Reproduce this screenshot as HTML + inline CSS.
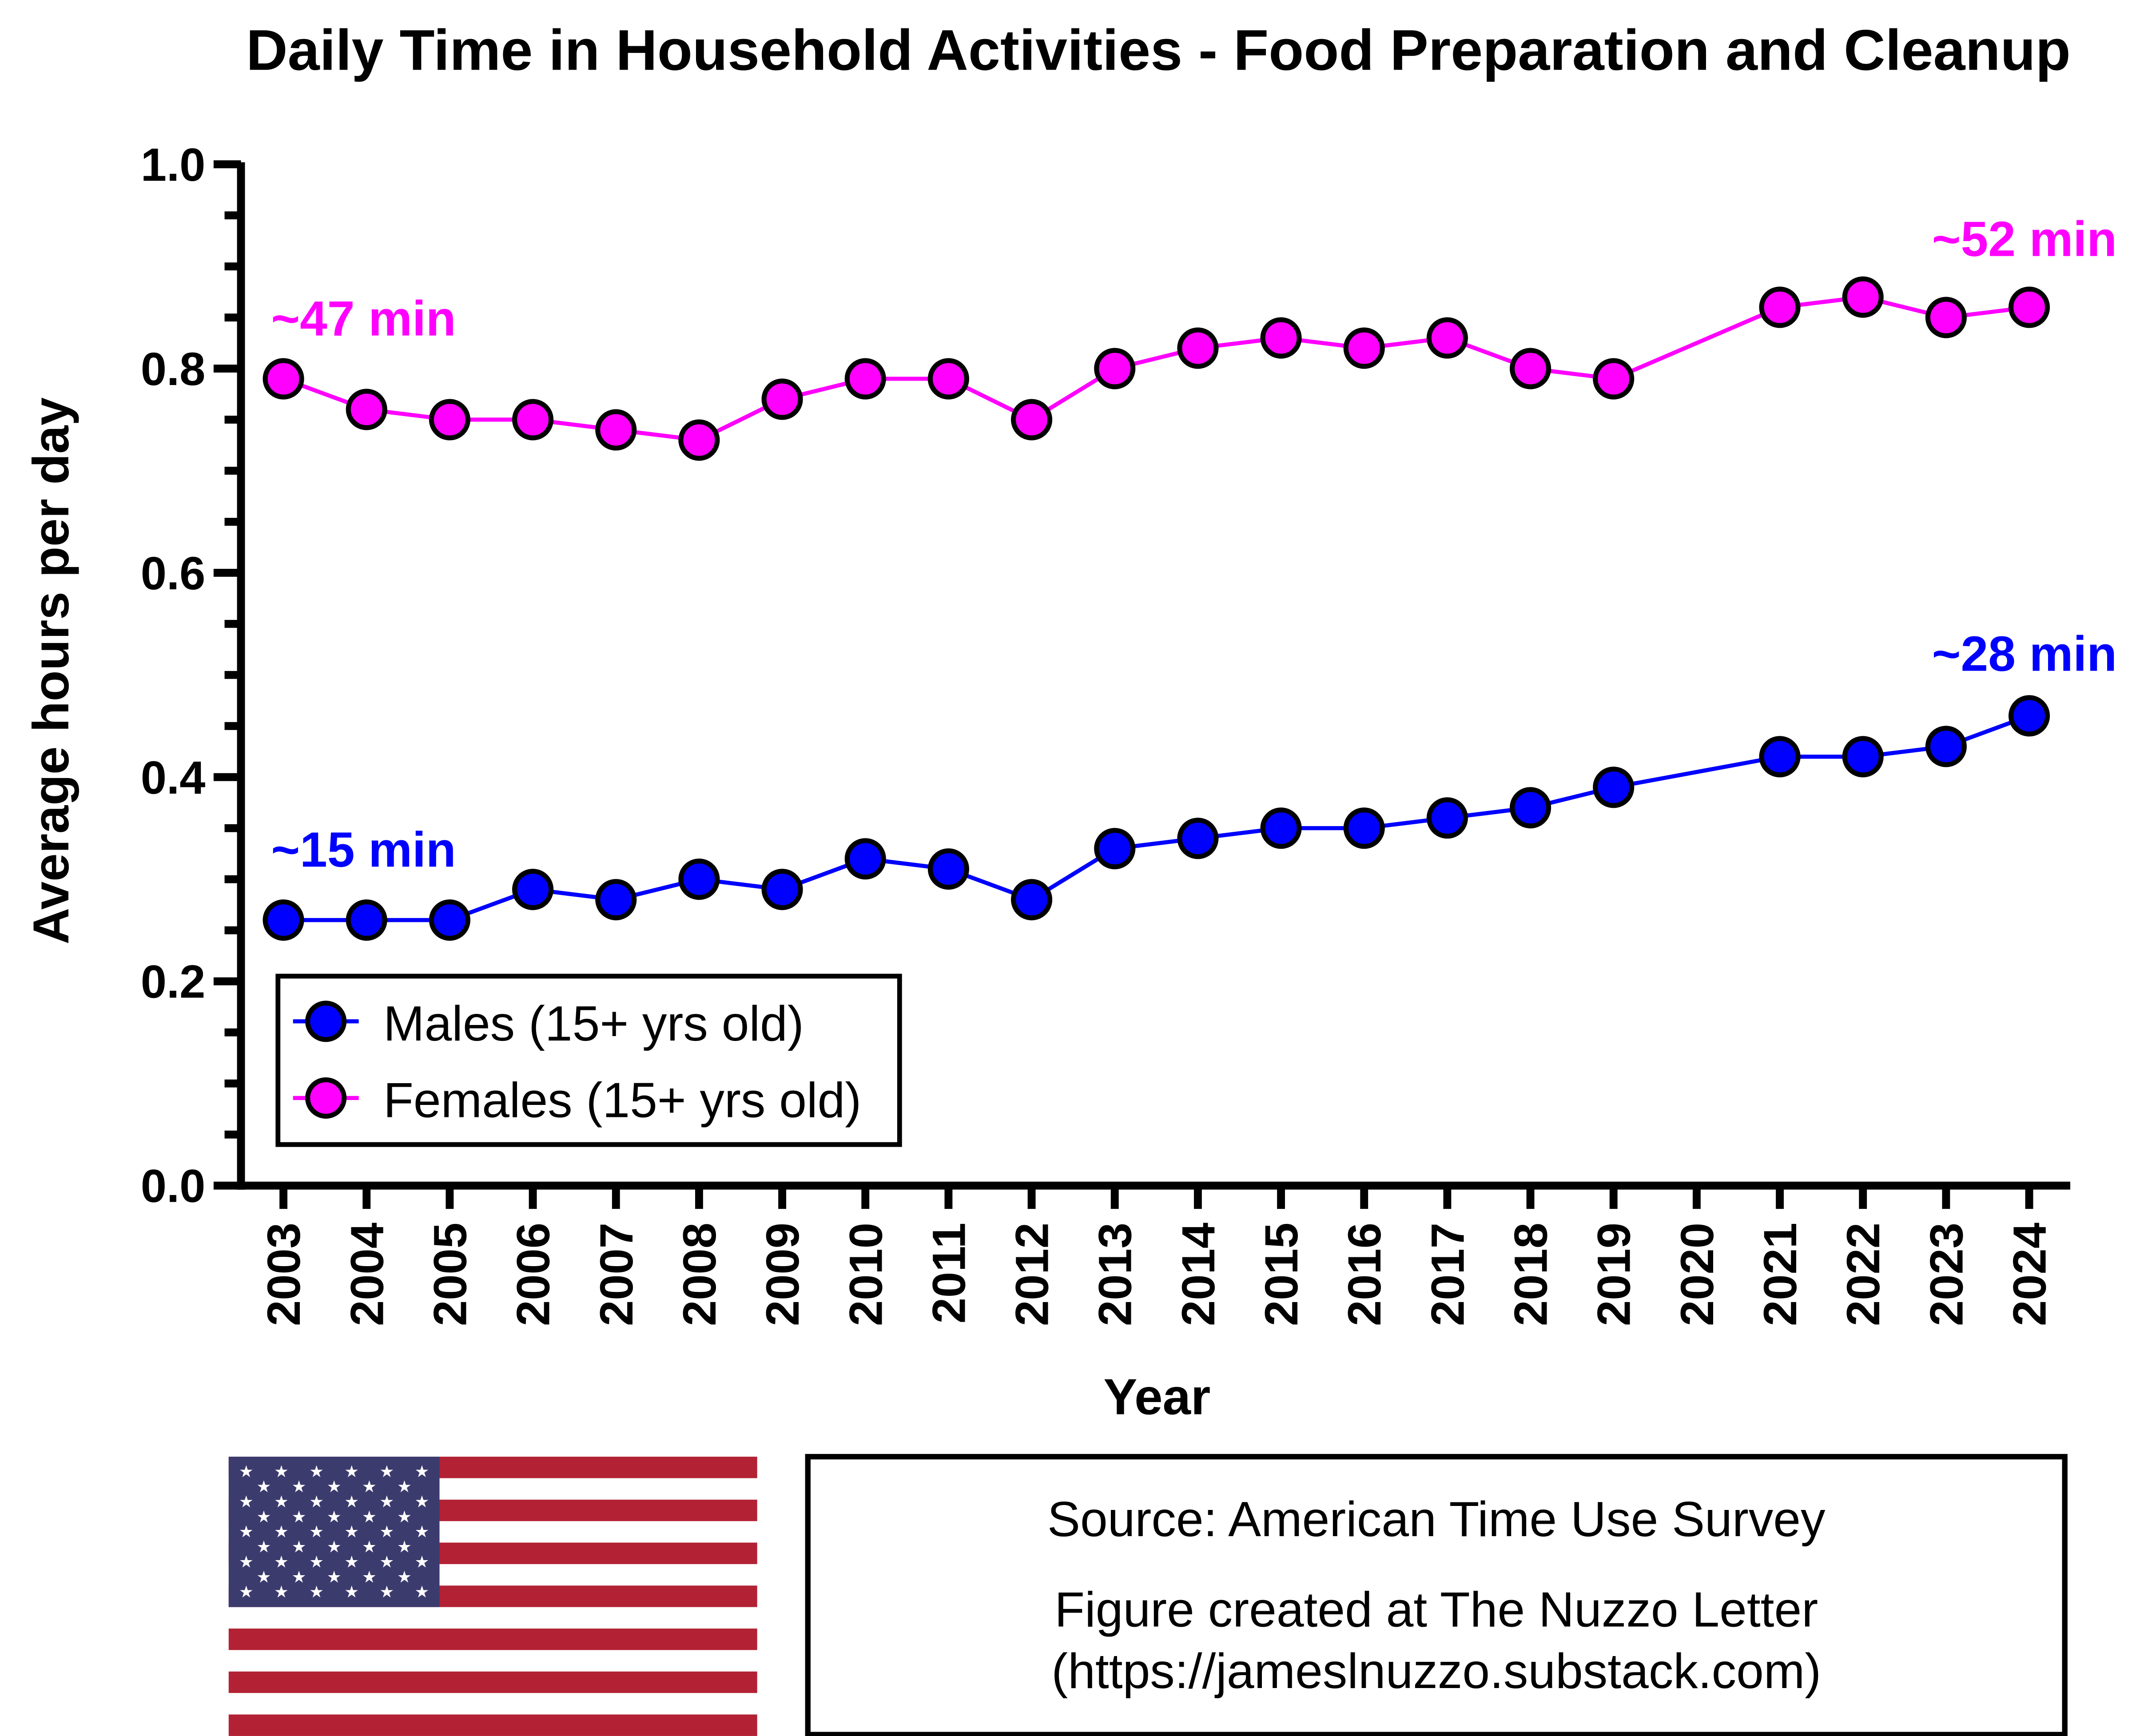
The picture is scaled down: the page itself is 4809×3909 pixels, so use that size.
<!DOCTYPE html>
<html><head><meta charset="utf-8"><style>html,body{margin:0;padding:0;background:#fff}svg{display:block}</style></head>
<body>
<svg id="chart" xmlns="http://www.w3.org/2000/svg" width="4809" height="3909" viewBox="0 0 1560 1268" font-family="Liberation Sans, Arial, sans-serif">
<rect width="1560" height="1268" fill="#fff"/>
<text x="846" y="51" text-anchor="middle" font-size="42" font-weight="bold">Daily Time in Household Activities -  Food Preparation and Cleanup</text>
<g id="axes"></g>
<g id="series"></g>
<text transform="translate(50,490) rotate(-90)" text-anchor="middle" font-size="37" font-weight="bold">Average hours per day</text>
<text x="845" y="1033" text-anchor="middle" font-size="37" font-weight="bold">Year</text>
<text x="198" y="245" font-size="36" font-weight="bold" fill="#ff00ff">~47 min</text>
<text x="1411" y="187" font-size="36" font-weight="bold" fill="#ff00ff">~52 min</text>
<text x="198" y="633" font-size="36" font-weight="bold" fill="#0000ff">~15 min</text>
<text x="1411" y="490" font-size="36" font-weight="bold" fill="#0000ff">~28 min</text>
<g>
<rect x="203" y="713" width="454" height="123" fill="#fff" stroke="#000" stroke-width="3.5"/>
<line x1="214" y1="746" x2="262" y2="746" stroke="#0000ff" stroke-width="3"/>
<circle cx="238" cy="746" r="13.3" fill="#0000ff" stroke="#000" stroke-width="3.6"/>
<text x="280" y="760" font-size="36">Males (15+ yrs old)</text>
<line x1="214" y1="802" x2="262" y2="802" stroke="#ff00ff" stroke-width="3"/>
<circle cx="238" cy="802" r="13.3" fill="#ff00ff" stroke="#000" stroke-width="3.6"/>
<text x="280" y="816" font-size="36">Females (15+ yrs old)</text>
</g>
<g id="flag"></g>
<g>
<rect x="590" y="1064" width="918" height="203" fill="#fff" stroke="#000" stroke-width="4"/>
<text x="1049" y="1122" text-anchor="middle" font-size="36">Source: American Time Use Survey</text>
<text x="1049" y="1188" text-anchor="middle" font-size="36">Figure created at The Nuzzo Letter</text>
<text x="1049" y="1233" text-anchor="middle" font-size="36">(https://jameslnuzzo.substack.com)</text>
</g>
</svg>
<script>
const years = [2003,2004,2005,2006,2007,2008,2009,2010,2011,2012,2013,2014,2015,2016,2017,2018,2019,2020,2021,2022,2023,2024];
const males = [0.26,0.26,0.26,0.29,0.28,0.30,0.29,0.32,0.31,0.28,0.33,0.34,0.35,0.35,0.36,0.37,0.39,null,0.42,0.42,0.43,0.46];
const females = [0.79,0.76,0.75,0.75,0.74,0.73,0.77,0.79,0.79,0.75,0.80,0.82,0.83,0.82,0.83,0.80,0.79,null,0.86,0.87,0.85,0.86];
const yTicks = ["0.0","0.2","0.4","0.6","0.8","1.0"];

const NS = "http://www.w3.org/2000/svg";
const X0 = 207, X1 = 1482, Y0 = 866, Y1 = 120;
function xs(y){ return X0 + (y - years[0]) * (X1 - X0) / (years[years.length-1] - years[0]); }
function ys(v){ return Y0 - v * (Y0 - Y1); }
function mk(tag, attrs, parent){ const e = document.createElementNS(NS, tag); for (const k in attrs) e.setAttribute(k, attrs[k]); parent.appendChild(e); return e; }

const axes = document.getElementById('axes');
const yAxis = mk('line', {x1:176, y1:Y1-1.5, x2:176, y2:Y0+3, stroke:'#000','stroke-width':5.8}, axes);


const xAxis = mk('line', {x1:173, y1:Y0, x2:1512, y2:Y0, stroke:'#000','stroke-width':5.8}, axes);


for (let i = 0; i <= 20; i++) {
  const v = i * 0.05, y = ys(v), major = i % 4 === 0;
  mk('line', {x1: major ? 156 : 164, y1:y, x2:176, y2:y, stroke:'#000','stroke-width':5.8}, axes);
}
yTicks.forEach(t => {
  const tl = mk('text', {x:150, y:ys(parseFloat(t))+12, 'text-anchor':'end','font-size':34,'font-weight':'bold'}, axes);
  tl.textContent = t;
  
  
});
years.forEach(yr => {
  const x = xs(yr);
  mk('line', {x1:x, y1:Y0, x2:x, y2:Y0+17, stroke:'#000','stroke-width':5.8}, axes);
  const tl = mk('text', {transform:`translate(${x+12},893) rotate(-90)`, 'text-anchor':'end','font-size':34,'font-weight':'bold'}, axes);
  tl.textContent = yr;
  
  
});

const sg = document.getElementById('series');
function drawSeries(vals, color, name){
  const pts = [];
  vals.forEach((v,i) => { if (v !== null) pts.push([xs(years[i]), ys(v)]); });
  const line = mk('polyline', {points: pts.map(p => p.join(',')).join(' '), fill:'none', stroke:color, 'stroke-width':3}, sg);
  
  
  vals.forEach((v,i) => {
    if (v === null) return;
    const c = mk('circle', {cx: xs(years[i]), cy: ys(v), r:13.3, fill:color, stroke:'#000','stroke-width':3.6}, sg);
    
    
  });
}
drawSeries(males, '#0000ff', 'males');
drawSeries(females, '#ff00ff', 'females');

const fg = document.getElementById('flag');
const FX = 167, FY = 1064, FW = 386, FH = 204, sh = FH / 13;
mk('rect', {x:FX, y:FY, width:FW, height:FH, fill:'#fff'}, fg);
for (let i = 0; i < 13; i += 2) mk('rect', {x:FX, y:FY + i*sh, width:FW, height:sh, fill:'#b22234'}, fg);
const CW = 154, CH = sh * 7;
mk('rect', {x:FX, y:FY, width:CW, height:CH, fill:'#3c3b6e'}, fg);
for (let r = 0; r < 9; r++) {
  const n = r % 2 === 0 ? 6 : 5;
  for (let c = 0; c < n; c++) {
    const sx = FX + CW/12 * (2*c + 1 + (r % 2)), sy = FY + CH/10 * (r + 1);
    const s = mk('text', {x:sx, y:sy+4, 'text-anchor':'middle','font-size':12, fill:'#fff'}, fg);
    s.textContent = '★';
  }
}
</script>
</body></html>
